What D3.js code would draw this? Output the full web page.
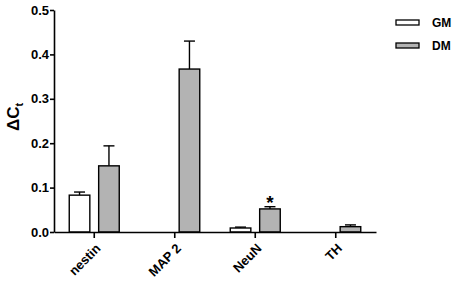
<!DOCTYPE html>
<html>
<head>
<meta charset="utf-8">
<script src="https://cdn.jsdelivr.net/npm/d3@7"></script>
<style>
  body { margin: 0; background: #fff; }
  text { font-family: "Liberation Sans", Arial, sans-serif; font-weight: bold; fill: #000; }
</style>
</head>
<body>
<div id="chart"></div>
<script>
'use strict';

// data
const categories = ['nestin', 'MAP 2', 'NeuN', 'TH'];
const seriesNames = ['GM', 'DM'];
const gmValues = [0.083, 0, 0.009, 0];
const gmErrors = [0.007, 0, 0.002, 0];
const dmValues = [0.149, 0.367, 0.052, 0.012];
const dmErrors = [0.045, 0.063, 0.005, 0.004];
const significant = ['NeuN'];   // starred categories (DM)
const yTicks = [0, 0.1, 0.2, 0.3, 0.4, 0.5];

const seriesColor = { GM: '#ffffff', DM: '#b3b3b3' };

const width = 454, height = 287;
const margin = [10, 55, 54, 78];   // top, bottom, left, right
const chartW = width - margin[2] - margin[3];
const chartH = height - margin[0] - margin[1];

const svg = d3.select('#chart').append('svg')
    .attr('width', width)
    .attr('height', height);

const chart = svg.append('g')
    .attr('transform', `translate(${margin[2]},${margin[0]})`);

const x = d3.scaleBand(categories, [0, chartW]);
const xInner = d3.scaleBand(seriesNames, [x.bandwidth() / 2 - 25, x.bandwidth() / 2 + 25])
    .paddingInner(0.3);
const y = d3.scaleLinear([0, 0.5], [chartH, 0]);

const rows = [];
categories.forEach((c, i) => {
    rows.push({ cat: c, s: 'GM', v: gmValues[i], e: gmErrors[i] });
    rows.push({ cat: c, s: 'DM', v: dmValues[i], e: dmErrors[i] });
});
const shown = rows.filter(d => d.v > 0);

// error bars (upper only), drawn before the bars
const err = chart.append('g').attr('stroke', '#000').attr('stroke-width', 1.4);
shown.filter(d => d.e > 0).forEach(d => {
    const cx = x(d.cat) + xInner(d.s) + xInner.bandwidth() / 2;
    err.append('line')
        .attr('x1', cx).attr('x2', cx)
        .attr('y1', y(d.v)).attr('y2', y(d.v + d.e));
    err.append('line')
        .attr('x1', cx - 5.5).attr('x2', cx + 5.5)
        .attr('y1', y(d.v + d.e)).attr('y2', y(d.v + d.e));
});

chart.append('g').selectAll('rect')
    .data(shown)
    .join('rect')
    .attr('x', d => x(d.cat) + xInner(d.s))
    .attr('width', xInner.bandwidth())
    .attr('y', d => y(d.v))
    .attr('height', d => y(0) - y(d.v))
    .attr('fill', d => seriesColor[d.s])
    .attr('stroke', '#000')
    .attr('stroke-width', 1.4);

// significance star
significant.forEach(c => {
    const i = categories.indexOf(c);
    chart.append('text')
        .attr('x', x(c) + xInner('DM') + xInner.bandwidth() / 2)
        .attr('y', y(dmValues[i] + dmErrors[i]) + 2)
        .attr('text-anchor', 'middle')
        .attr('font-size', 19)
        .text('*');
});

// axes
const axisY = chart.append('g')
    .call(d3.axisLeft(y).tickValues(yTicks).tickFormat(d3.format('.1f')).tickSize(4).tickSizeOuter(0));
const axisX = chart.append('g')
    .attr('transform', `translate(0,${chartH})`)
    .call(d3.axisBottom(x).tickSize(6).tickSizeOuter(0).tickFormat(''));

[axisY, axisX].forEach(a => {
    a.attr('font-family', null).attr('font-size', null);
    a.select('.domain').attr('stroke', '#000').attr('stroke-width', 1.6);
    a.selectAll('.tick line').attr('stroke', '#000').attr('stroke-width', 1.6);
});
axisY.selectAll('.tick text')
    .style('font-size', '13px')
    .attr('x', -5);

// rotated category labels: outer g moves, inner g turns
const c45 = Math.SQRT1_2;
chart.append('g').selectAll('g')
    .data(categories)
    .join('g')
    .attr('transform', d => `translate(${x(d) + x.bandwidth() / 2 + 4},${chartH + 14})`)
    .append('g')
    .attr('transform', `matrix(${c45},${-c45},${c45},${c45},0,0)`)
    .append('text')
    .attr('text-anchor', 'end')
    .attr('dy', '0.35em')
    .style('font-size', '13px')
    .text(d => d);

// y-axis title: ΔCt
const yt = svg.append('g')
    .attr('transform', `translate(19,${margin[0] + chartH / 2 - 4})`)
    .append('g')
    .attr('transform', 'rotate(-90)')
    .append('text')
    .attr('text-anchor', 'middle')
    .style('font-size', '17px');
yt.append('tspan').text('ΔC');
yt.append('tspan').style('font-size', '11px').attr('dy', 4).text('t');

// legend
const legend = svg.append('g').attr('transform', 'translate(396,20)');
seriesNames.forEach((s, i) => {
    const g = legend.append('g').attr('transform', `translate(0,${i * 23})`);
    g.append('rect')
        .attr('width', 23).attr('height', 5)
        .attr('fill', seriesColor[s])
        .attr('stroke', '#000').attr('stroke-width', 1.3);
    g.append('text')
        .attr('x', 36).attr('y', 2.5)
        .attr('dy', '0.35em')
        .style('font-size', '12px')
        .text(s);
});
</script>
</body>
</html>
